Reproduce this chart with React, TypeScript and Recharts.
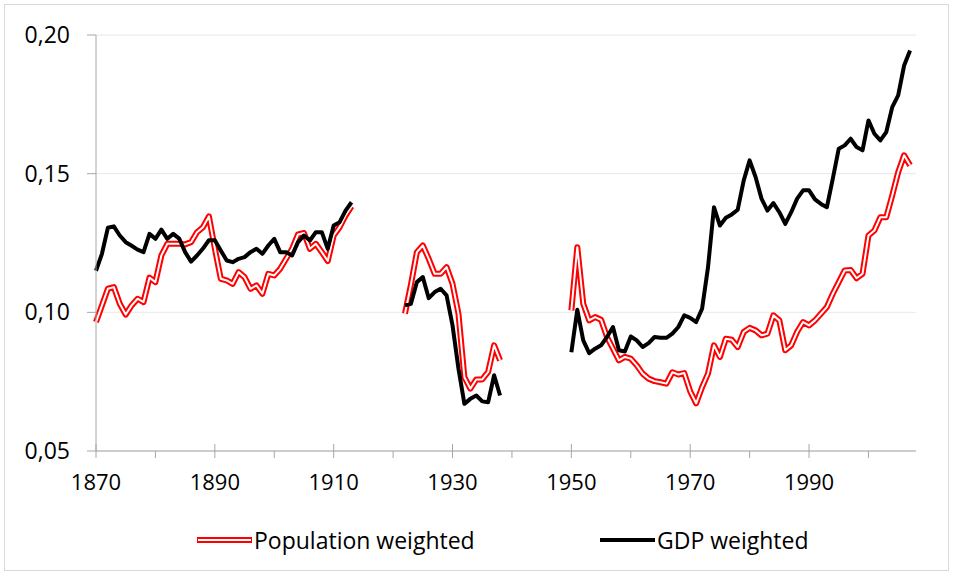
import { CartesianGrid, Legend, Line, LineChart, XAxis, YAxis } from 'recharts'

// years where each block of data starts (gaps for the two wars)
const blockStarts = [1870, 1922, 1950]

const popWeighted1870 = [
  0.0965, 0.1025, 0.1085, 0.1091, 0.1031, 0.0992, 0.1025, 0.1049, 0.1037, 0.1125,
  0.1109, 0.1205, 0.1247, 0.1247, 0.1247, 0.1245, 0.1253, 0.1289, 0.1307, 0.1346,
  0.1230, 0.1121, 0.1115, 0.1103, 0.1145, 0.1127, 0.1085, 0.1097, 0.1067, 0.1139,
  0.1133, 0.1157, 0.1193, 0.1229, 0.1281, 0.1286, 0.1229, 0.1247, 0.1217, 0.1185,
  0.1277, 0.1307, 0.1349, 0.1382,
]
const popWeighted1922 = [
  0.0995, 0.1100, 0.1217, 0.1241, 0.1193, 0.1139, 0.1139, 0.1163, 0.1103, 0.0995,
  0.0766, 0.0725, 0.0758, 0.0758, 0.0785, 0.0881, 0.0827,
]
const popWeighted1950 = [
  0.1007, 0.1235, 0.1031, 0.0971, 0.0983, 0.0973, 0.0911, 0.0869, 0.0827, 0.0839,
  0.0833, 0.0809, 0.0779, 0.0761, 0.0752, 0.0748, 0.0743, 0.0784, 0.0776, 0.0781,
  0.0715, 0.0672, 0.0730, 0.0779, 0.0881, 0.0839, 0.0905, 0.0901, 0.0875, 0.0929,
  0.0944, 0.0935, 0.0917, 0.0923, 0.0989, 0.0971, 0.0863, 0.0881, 0.0930, 0.0965,
  0.0953, 0.0971, 0.0995, 0.1019, 0.1067, 0.1109, 0.1151, 0.1153, 0.1123, 0.1139,
  0.1277, 0.1295, 0.1343, 0.1343, 0.1421, 0.1505, 0.1566, 0.1530,
]

const gdpWeighted1870 = [
  0.1150, 0.1211, 0.1305, 0.1310, 0.1277, 0.1253, 0.1240, 0.1226, 0.1217, 0.1283,
  0.1265, 0.1298, 0.1265, 0.1283, 0.1266, 0.1217, 0.1183, 0.1205, 0.1230, 0.1260,
  0.1260, 0.1223, 0.1187, 0.1181, 0.1193, 0.1199, 0.1217, 0.1229, 0.1211, 0.1241,
  0.1265, 0.1217, 0.1217, 0.1205, 0.1253, 0.1277, 0.1259, 0.1289, 0.1289, 0.1229,
  0.1313, 0.1325, 0.1367, 0.1397,
]
const gdpWeighted1922 = [
  0.1025, 0.1031, 0.1109, 0.1127, 0.1051, 0.1073, 0.1085, 0.1061, 0.0953, 0.0797,
  0.0670, 0.0688, 0.0700, 0.0679, 0.0676, 0.0773, 0.0700,
]
const gdpWeighted1950 = [
  0.0856, 0.1009, 0.0899, 0.0853, 0.0869, 0.0881, 0.0911, 0.0947, 0.0863, 0.0859,
  0.0913, 0.0899, 0.0875, 0.0889, 0.0911, 0.0908, 0.0908, 0.0923, 0.0947, 0.0989,
  0.0980, 0.0965, 0.1013, 0.1163, 0.1379, 0.1313, 0.1341, 0.1353, 0.1370, 0.1475,
  0.1548, 0.1488, 0.1410, 0.1367, 0.1394, 0.1361, 0.1319, 0.1361, 0.1410, 0.1440,
  0.1440, 0.1407, 0.1391, 0.1379, 0.1482, 0.1590, 0.1602, 0.1626, 0.1596, 0.1584,
  0.1692, 0.1644, 0.1620, 0.1650, 0.1740, 0.1782, 0.1890, 0.1944,
]

const firstYear = 1870
const lastYear = 2007
const yearTicks = [1870, 1880, 1890, 1900, 1910, 1920, 1930, 1940, 1950, 1960, 1970, 1980, 1990, 2000]
const valueTicks = [0.05, 0.1, 0.15, 0.2]

const popBlocks = [popWeighted1870, popWeighted1922, popWeighted1950]
const gdpBlocks = [gdpWeighted1870, gdpWeighted1922, gdpWeighted1950]

function pick(blocks: number[][], year: number): number | null {
  for (let i = 0; i < blockStarts.length; i++) {
    const idx = year - blockStarts[i]
    if (idx >= 0 && idx < blocks[i].length) return blocks[i][idx]
  }
  return null
}

const rows: { year: number; pop: number | null; gdp: number | null }[] = []
for (let y = firstYear; y <= lastYear; y++) {
  rows.push({ year: y, pop: pick(popBlocks, y), gdp: pick(gdpBlocks, y) })
}

const font = '"Open Sans", sans-serif'
const axisGrey = '#a6a6a6'

function YearTick(props: any) {
  const { x, y, payload } = props
  const major = (payload.value - firstYear) % 20 === 0
  return (
    <g>
      <line x1={x} x2={x} y1={major ? y - 7 : y} y2={y + 7} stroke={axisGrey} strokeWidth={1} />
      {major && (
        <text x={x} y={y + 39} textAnchor="middle" fontSize={22} fontFamily={font} fill="#000">
          {payload.value}
        </text>
      )}
    </g>
  )
}

function ChartLegend() {
  const item = (left: number, label: string, red: boolean) => (
    <div style={{ position: 'absolute', left, top: 0, height: 40, display: 'flex', alignItems: 'center' }}>
      <svg width={58} height={10} style={{ display: 'block' }}>
        {red ? (
          <>
            <line x1={1} x2={56} y1={5} y2={5} stroke="#ff0000" strokeWidth={6} />
            <line x1={2} x2={55} y1={5} y2={5} stroke="#ffffff" strokeWidth={2} />
          </>
        ) : (
          <line x1={1} x2={56} y1={5} y2={5} stroke="#000" strokeWidth={4} />
        )}
      </svg>
      <span style={{ fontFamily: font, fontSize: 23, color: '#000', whiteSpace: 'nowrap' }}>{label}</span>
    </div>
  )
  return (
    <div style={{ position: 'relative', width: 954, height: 40 }}>
      {item(196, 'Population weighted', true)}
      {item(599, 'GDP weighted', false)}
    </div>
  )
}

export default function App() {
  return (
    <div style={{ position: 'absolute', left: 0, top: 0, width: 954, height: 576, background: '#fff' }}>
      <div
        style={{
          position: 'absolute', left: 4, top: 4, width: 945, height: 567,
          border: '1px solid #d9d9d9', boxSizing: 'border-box',
        }}
      />
      <LineChart width={954} height={576} data={rows} margin={{ top: 35, right: 38, bottom: 16, left: 0 }}>
        <CartesianGrid vertical={false} stroke="#e8e8e8" strokeWidth={1} />
        <XAxis
          dataKey="year"
          type="number"
          domain={[firstYear, 2008]}
          ticks={yearTicks}
          interval={0}
          tickSize={0}
          tickMargin={0}
          tickLine={false}
          tick={<YearTick />}
          height={69}
          axisLine={{ stroke: axisGrey }}
        />
        <YAxis
          domain={[0.05, 0.2]}
          ticks={valueTicks}
          width={96}
          tickSize={9}
          tickMargin={17}
          tickLine={{ stroke: axisGrey }}
          axisLine={{ stroke: axisGrey }}
          tick={{ fontSize: 23, fontFamily: font, fill: '#000' }}
          tickFormatter={(v: number) => v.toFixed(2).replace('.', ',')}
        />
        <Legend verticalAlign="bottom" content={<ChartLegend />} wrapperStyle={{ left: 0, width: 954, height: 40 }} />
        <Line dataKey="pop" name="Population weighted" stroke="#ff0000" strokeWidth={6} dot={false}
          strokeLinejoin="round" isAnimationActive={false} legendType="none" />
        <Line dataKey="pop" name="Population weighted (inner)" stroke="#ffffff" strokeWidth={2} dot={false}
          strokeLinejoin="round" isAnimationActive={false} legendType="none" />
        <Line dataKey="gdp" name="GDP weighted" stroke="#000000" strokeWidth={4} dot={false}
          strokeLinejoin="round" isAnimationActive={false} legendType="none" />
      </LineChart>
    </div>
  )
}
